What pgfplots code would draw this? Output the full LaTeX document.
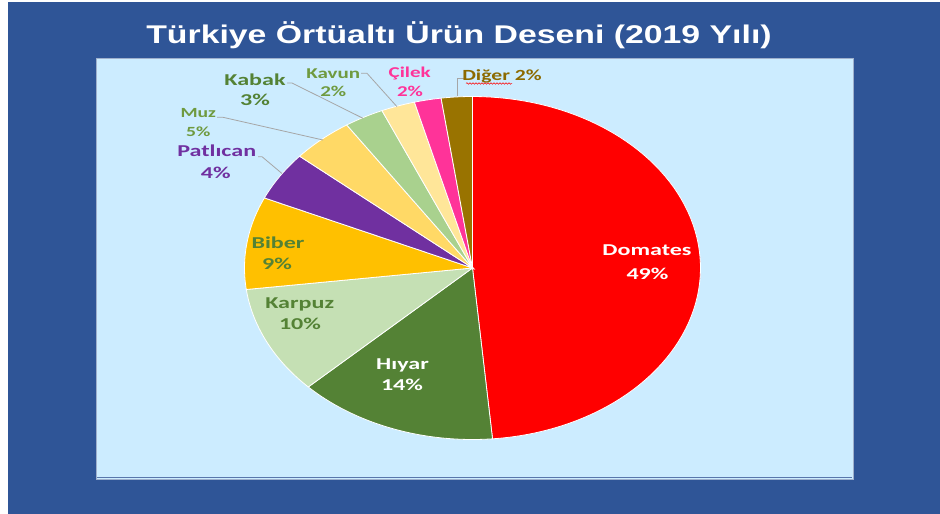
\documentclass[border=0pt]{standalone}
\usepackage{pgfplots}
\pgfplotsset{compat=1.18}
\usepackage{pgfplotstable}
\usepackage{fontspec}
\setmainfont{Liberation Sans}
\newfontfamily\labfont{Carlito}
\usetikzlibrary{decorations.pathmorphing}

\definecolor{bgblue}{HTML}{2F5597}
\definecolor{plotbg}{HTML}{CCECFF}
\definecolor{frameg}{HTML}{9FB0CC}
\definecolor{leader}{HTML}{A6A6A6}
\definecolor{slice0}{HTML}{FF0000}% Domates
\definecolor{slice1}{HTML}{548235}% Hiyar
\definecolor{slice2}{HTML}{C5E0B4}% Karpuz
\definecolor{slice3}{HTML}{FFC000}% Biber
\definecolor{slice4}{HTML}{7030A0}% Patlican
\definecolor{slice5}{HTML}{FFD966}% Muz
\definecolor{slice6}{HTML}{A9D18E}% Kabak
\definecolor{slice7}{HTML}{FFE699}% Kavun
\definecolor{slice8}{HTML}{FF3399}% Cilek
\definecolor{slice9}{HTML}{997300}% Diger
\definecolor{tgreen}{HTML}{548235}
\definecolor{tlgreen}{HTML}{6F9A3F}
\definecolor{tpurple}{HTML}{7030A0}
\definecolor{tpink}{HTML}{FF3399}
\definecolor{tgold}{HTML}{8C6A00}

% share of each crop (percent), clockwise from 12 o'clock
\pgfplotstableread{
crop share
Domates 48.6
Hiyar 14.2
Karpuz 10.2
Biber 8.7
Patlican 4.6
Muz 4.4
Kabak 2.8
Kavun 2.4
Cilek 1.9
Diger 2.2
}\piedata

\newcommand\biglab[1]{\labfont\fontsize{16.6}{18}\bfseries\selectfont #1}
\newcommand\smlab[1]{\labfont\fontsize{15}{17}\bfseries\selectfont #1}
\begin{document}
\begin{tikzpicture}
\begin{axis}[
  width=940pt, height=514pt, scale only axis,
  xmin=0, xmax=940, ymin=0, ymax=514, y dir=reverse,
  hide axis, clip=false,
]
% backgrounds
\fill[white] (axis cs:0,0) rectangle (axis cs:940,514);
\fill[bgblue] (axis cs:8,2) rectangle (axis cs:940,514);
\filldraw[fill=plotbg, draw=frameg, line width=0.8pt] (axis cs:96,58) rectangle (axis cs:853,479);
\draw[color=bgblue!80!white, line width=1pt] (axis cs:97,477.5) -- (axis cs:852,477.5);

% pie slices
\xdef\cum{0}
\pgfplotsforeachungrouped \i in {0,...,9}{%
  \pgfplotstablegetelem{\i}{share}\of\piedata
  \pgfmathsetmacro\sa{\cum*3.6}%
  \pgfmathsetmacro\newcum{\cum+\pgfplotsretval}%
  \pgfmathsetmacro\sb{\newcum*3.6}%
  \xdef\cum{\newcum}%
  \edef\temp{\noexpand\addplot[fill=slice\i, draw=white, line width=0.8pt, domain=\sa:\sb, samples=80]
    ({472.5+228*sin(x)},{268-171.5*cos(x)}) -- (axis cs:472.5,268) -- cycle;}%
  \temp
}

% leader lines
\addplot[leader, line width=0.8pt] coordinates {(258,156.7) (262,156.7) (282,173.5)};
\addplot[leader, line width=0.8pt] coordinates {(217,117.3) (223,117.3) (323,140)};
\addplot[leader, line width=0.8pt] coordinates {(287,83) (292,83) (363,118.3)};
\addplot[leader, line width=0.8pt] coordinates {(361,73.3) (367,73.3) (397,106.7)};
\addplot[leader, line width=0.8pt] coordinates {(465,78) (457.7,78) (457.7,96)};

% title
\node[anchor=base, text=white, xscale=1.32, font=\fontsize{25.6}{30}\bfseries\selectfont] at (axis cs:459,43.5) {Türkiye Örtüaltı Ürün Deseni (2019 Yılı)};

% labels
\tikzset{lab/.style={anchor=base, xscale=1.45, inner sep=0pt},
         slab/.style={anchor=base, xscale=1.4, inner sep=0pt}}
\node[lab, text=white] at (axis cs:647,255.7) {\biglab{Domates}};
\node[lab, text=white] at (axis cs:647.5,279) {\biglab{49\%}};
\node[lab, text=white] at (axis cs:402.5,369.3) {\biglab{Hıyar}};
\node[lab, text=white] at (axis cs:402,390.3) {\biglab{14\%}};
\node[lab, text=tgreen] at (axis cs:299.7,308.7) {\biglab{Karpuz}};
\node[lab, text=tgreen] at (axis cs:300,329.3) {\biglab{10\%}};
\node[lab, text=tgreen] at (axis cs:278,248.3) {\biglab{Biber}};
\node[lab, text=tgreen] at (axis cs:277,269.3) {\biglab{9\%}};
\node[lab, text=tpurple] at (axis cs:216.7,156.7) {\biglab{Patlıcan}};
\node[lab, text=tpurple] at (axis cs:215.8,178.3) {\biglab{4\%}};
\node[slab, text=tlgreen] at (axis cs:198.3,117.3) {\labfont\fontsize{14}{16}\bfseries\selectfont Muz};
\node[slab, text=tlgreen] at (axis cs:198.3,136) {\labfont\fontsize{14}{16}\bfseries\selectfont 5\%};
\node[lab, text=tgreen] at (axis cs:255,85) {\biglab{Kabak}};
\node[lab, text=tgreen] at (axis cs:255,105.7) {\biglab{3\%}};
\node[slab, text=tlgreen] at (axis cs:333.3,78.3) {\smlab{Kavun}};
\node[slab, text=tlgreen] at (axis cs:333.3,96.7) {\smlab{2\%}};
\node[slab, text=tpink] at (axis cs:409.7,77.3) {\smlab{Çilek}};
\node[slab, text=tpink] at (axis cs:410,96) {\smlab{2\%}};
\node[slab, text=tgold] at (axis cs:502,80) {\labfont\fontsize{15.5}{18}\bfseries\selectfont Diğer 2\%};
\draw[red, line width=0.5pt, decorate, decoration={snake, amplitude=0.8pt, segment length=3pt}] (axis cs:466,83.5) -- (axis cs:512,83.5);
\end{axis}
\end{tikzpicture}
\end{document}
